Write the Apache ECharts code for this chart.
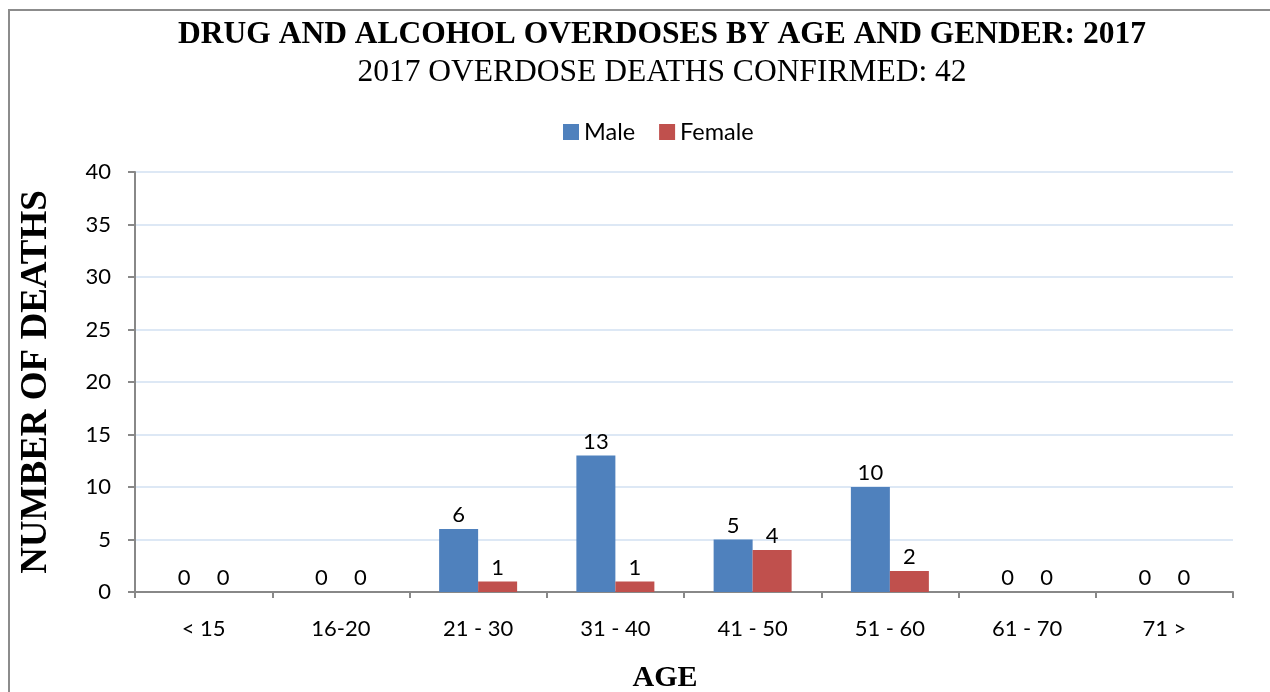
<!DOCTYPE html>
<html>
<head>
<meta charset="utf-8">
<script src="https://cdn.jsdelivr.net/npm/echarts@6/dist/echarts.min.js"></script>
<style>
  html, body { margin: 0; padding: 0; background: #fff; }
  #chart { width: 1270px; height: 692px; }
</style>
</head>
<body>
<div id="chart"></div>
<script>
  // data
  var ageGroups = ['< 15', '16-20', '21 - 30', '31 - 40', '41 - 50', '51 - 60', '61 - 70', '71 >'];
  var maleDeaths = [0, 0, 6, 13, 5, 10, 0, 0];
  var femaleDeaths = [0, 0, 1, 1, 4, 2, 0, 0];

  var labelFont = 'Lato, "Open Sans", sans-serif';
  var serif = '"Liberation Serif", "DejaVu Serif", serif';

  var chart = echarts.init(document.getElementById('chart'));
  chart.setOption({
    animation: false,
    graphic: [{
      type: 'rect',
      shape: { x: 9, y: 10, width: 1300, height: 700 },
      style: { fill: 'none', stroke: '#8c8c8c', lineWidth: 2 },
      silent: true
    }],
    title: {
      text: 'DRUG AND ALCOHOL OVERDOSES BY AGE AND GENDER: 2017',
      subtext: '2017 OVERDOSE DEATHS CONFIRMED: 42',
      left: 657,
      textAlign: 'center',
      top: 14,
      itemGap: 6,
      textStyle: { fontFamily: serif, fontWeight: 'bold', fontSize: 31.5, color: '#000' },
      subtextStyle: { fontFamily: serif, fontSize: 31.5, color: '#000' }
    },
    legend: {
      data: ['Male', 'Female'],
      top: 115,
      left: 558,
      itemWidth: 16,
      itemHeight: 16,
      itemGap: 24,
      icon: 'rect',
      textStyle: { fontFamily: labelFont, fontSize: 23.5, color: '#000' }
    },
    grid: { left: 135, right: 37, top: 172, bottom: 100, outerBoundsMode: 'none' },
    xAxis: {
      type: 'category',
      data: ageGroups,
      name: 'AGE',
      nameLocation: 'middle',
      nameGap: 71,
      nameTextStyle: { fontFamily: serif, fontWeight: 'bold', fontSize: 30, color: '#000', padding: [0, 38, 0, 0] },
      axisLine: { lineStyle: { color: '#888', width: 2 } },
      axisTick: { show: true, length: 6, lineStyle: { color: '#888', width: 2 } },
      axisLabel: { fontFamily: labelFont, fontSize: 22, color: '#000', margin: 26 }
    },
    yAxis: {
      type: 'value',
      min: 0,
      max: 40,
      interval: 5,
      name: 'NUMBER OF DEATHS',
      nameLocation: 'middle',
      nameGap: 80,
      nameTextStyle: { fontFamily: serif, fontWeight: 'bold', fontSize: 37, color: '#000' },
      axisLine: { show: true, lineStyle: { color: '#888', width: 2 } },
      axisTick: { show: true, length: 7, lineStyle: { color: '#888', width: 2 } },
      axisLabel: { fontFamily: labelFont, fontSize: 22, color: '#000', margin: 24 },
      splitLine: { lineStyle: { color: '#dde8f5', width: 2 } }
    },
    series: [
      {
        name: 'Male',
        type: 'bar',
        data: maleDeaths,
        barWidth: 39,
        barGap: '0%',
        itemStyle: { color: '#4f81bd' },
        label: { show: true, position: 'top', fontFamily: labelFont, fontSize: 22, color: '#000', distance: 3 }
      },
      {
        name: 'Female',
        type: 'bar',
        data: femaleDeaths,
        barWidth: 39,
        barGap: '0%',
        itemStyle: { color: '#c0504d' },
        label: { show: true, position: 'top', fontFamily: labelFont, fontSize: 22, color: '#000', distance: 3 }
      }
    ]
  });
</script>
</body>
</html>
